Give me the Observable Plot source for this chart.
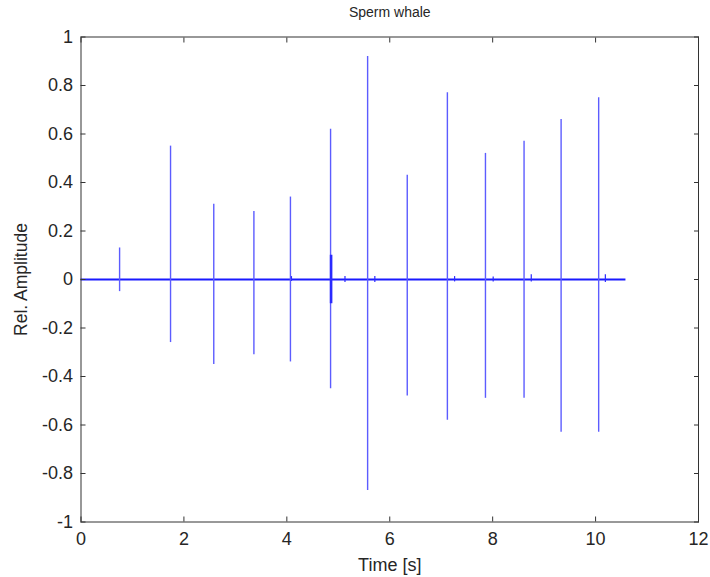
<!DOCTYPE html>
<html>
<head>
<meta charset="utf-8">
<script src="https://cdn.jsdelivr.net/npm/d3@7"></script>
<script src="https://cdn.jsdelivr.net/npm/@observablehq/plot@0.6"></script>
<style>
  html, body { margin: 0; padding: 0; background: #fff; }
  #chart { width: 710px; height: 577px; }
</style>
</head>
<body>
<div id="chart"></div>
<script>
// ---- data ----
const titleText = "Sperm whale";
const xLabelText = "Time [s]";
const yLabelText = "Rel. Amplitude";

// main clicks: time (s), positive peak, negative peak
const clickTime = [0.75, 1.74, 2.58, 3.36, 4.07, 4.85, 5.57, 6.34, 7.12, 7.86, 8.61, 9.33, 10.06];
const clickMax  = [0.13, 0.55, 0.31, 0.28, 0.34, 0.62, 0.92, 0.43, 0.77, 0.52, 0.57, 0.66, 0.75];
const clickMin  = [-0.05, -0.26, -0.35, -0.31, -0.34, -0.45, -0.87, -0.48, -0.58, -0.49, -0.49, -0.63, -0.63];

// dense burst around the 6th click
const burstTime = [4.86];
const burstMax  = [0.10];
const burstMin  = [-0.10];

// small echoes along the baseline
const echoTime = [4.09, 5.13, 5.71, 7.26, 8.01, 8.75, 10.19];
const echoMax  = [0.012, 0.012, 0.012, 0.012, 0.01, 0.02, 0.02];
const echoMin  = [-0.008, -0.012, -0.012, -0.01, -0.01, -0.01, -0.012];

const signalStart = 0;
const signalEnd = 10.59;

const xTicks = [0, 2, 4, 6, 8, 10, 12];
const xTickLabels = ["0", "2", "4", "6", "8", "10", "12"];
const yTicks = [-1, -0.8, -0.6, -0.4, -0.2, 0, 0.2, 0.4, 0.6, 0.8, 1];
const yTickLabels = ["-1", "-0.8", "-0.6", "-0.4", "-0.2", "0", "0.2", "0.4", "0.6", "0.8", "1"];

// ---- tables built from the arrays ----
const clicks = clickTime.map((t, i) => ({t, hi: clickMax[i], lo: clickMin[i]}));
const bursts = burstTime.map((t, i) => ({t, hi: burstMax[i], lo: burstMin[i]}));
const echoes = echoTime.map((t, i) => ({t, hi: echoMax[i], lo: echoMin[i]}));
const baseline = [{x1: signalStart, x2: signalEnd, y: 0}];

const labelOf = (vals, labels) => d => {
  const i = vals.findIndex(v => Math.abs(v - d) < 1e-9);
  return i >= 0 ? labels[i] : "";
};

const font = "'Liberation Sans', Arial, Helvetica, sans-serif";
const ink = "#262626";

const chart = Plot.plot({
  width: 710,
  height: 577,
  marginLeft: 80.5,
  marginRight: 12,
  marginTop: 36.5,
  marginBottom: 55.5,
  style: {fontFamily: font, fontSize: "18px", color: ink, background: "#fff", overflow: "visible"},
  x: {domain: [0, 12], label: null},
  y: {domain: [-1, 1], label: null},
  marks: [
    // signal
    Plot.ruleY(baseline, {x1: "x1", x2: "x2", y: "y", stroke: "#1a1aff", strokeWidth: 2.2}),
    Plot.ruleX(clicks, {x: "t", y1: "lo", y2: "hi", stroke: "#5c5cff", strokeWidth: 1.4}),
    Plot.ruleX(bursts, {x: "t", y1: "lo", y2: "hi", stroke: "#2a2aff", strokeWidth: 2.6}),
    Plot.ruleX(echoes, {x: "t", y1: "lo", y2: "hi", stroke: "#2a2aff", strokeWidth: 1.2}),
    // box
    Plot.frame({stroke: "#333", strokeWidth: 1}),
    // axes with inward ticks
    Plot.axisX(xTicks, {anchor: "bottom", tickSize: -5, tickPadding: 15.5, tickFormat: labelOf(xTicks, xTickLabels), label: null, fontSize: 18, stroke: "#333", fill: ink}),
    Plot.axisX(xTicks, {anchor: "top", tickSize: -5, tickFormat: () => "", label: null, stroke: "#333"}),
    Plot.axisY(yTicks, {anchor: "left", tickSize: -5, tickPadding: 13, tickFormat: labelOf(yTicks, yTickLabels), label: null, fontSize: 18, stroke: "#333", fill: ink}),
    Plot.axisY(yTicks, {anchor: "right", tickSize: -5, tickFormat: () => "", label: null, stroke: "#333"}),
    // title and axis labels
    Plot.text([titleText], {frameAnchor: "top", lineAnchor: "middle", textAnchor: "middle", dy: -24, fontSize: 14, fill: ink}),
    Plot.text([xLabelText], {frameAnchor: "bottom", lineAnchor: "middle", textAnchor: "middle", dy: 43, fontSize: 18, fill: ink}),
    Plot.text([yLabelText], {frameAnchor: "left", lineAnchor: "middle", textAnchor: "middle", dx: -60, rotate: -90, fontSize: 17.5, fill: ink})
  ]
});
document.getElementById("chart").appendChild(chart);
</script>
</body>
</html>
